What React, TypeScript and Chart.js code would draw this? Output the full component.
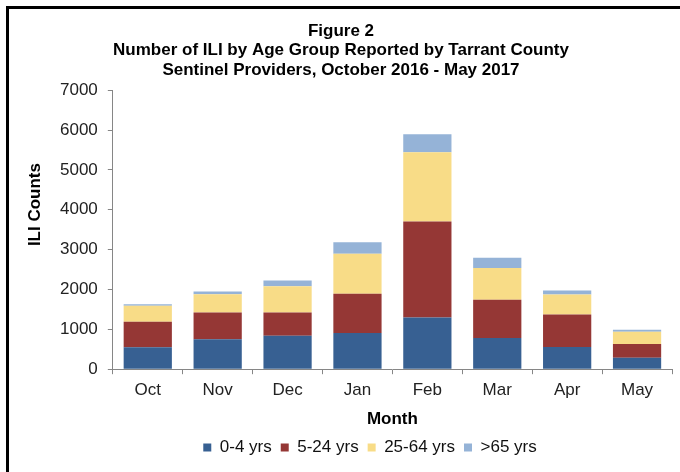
import React, { useEffect, useRef } from "react";
import { Chart, registerables } from "chart.js";

Chart.register(...registerables);

const months = ["Oct", "Nov", "Dec", "Jan", "Feb", "Mar", "Apr", "May"];
const age0to4 = [550, 750, 840, 910, 1300, 780, 560, 290];
const age5to24 = [640, 675, 585, 985, 2405, 960, 815, 345];
const age25to64 = [400, 455, 655, 1000, 1735, 800, 500, 305];
const age65plus = [40, 70, 145, 290, 455, 255, 100, 50];
const seriesLabels = ["0-4 yrs", "5-24 yrs", "25-64 yrs", ">65 yrs"];
const seriesColors = ["#376092", "#953735", "#F8DC87", "#95B3D7"];
const titleLines = [
  "Figure 2",
  "Number of ILI by Age Group Reported by Tarrant County",
  "Sentinel Providers, October 2016 - May 2017",
];
const yAxisTitle = "ILI Counts";
const xAxisTitle = "Month";

const FONT = '"Liberation Sans", Arial, sans-serif';

const shiftBlocksPlugin = {
  id: "shiftBlocks",
  afterLayout(chart: any) {
    const t = chart.titleBlock;
    if (t) {
      t.left -= 20;
      t.right -= 20;
    }
    const l = chart.legend;
    if (l && typeof l.adjustHitBoxes === "function") {
      l.left += 9;
      l.right += 9;
      l.adjustHitBoxes();
    }
  },
};

const yTitlePlugin = {
  id: "yTitleCustom",
  afterDraw(chart: any) {
    const { ctx, chartArea } = chart;
    ctx.save();
    ctx.translate(26, chartArea.top + (chartArea.bottom - chartArea.top) * 0.41);
    ctx.rotate(-Math.PI / 2);
    ctx.font = `bold 17px ${FONT}`;
    ctx.textAlign = "center";
    ctx.textBaseline = "middle";
    ctx.fillStyle = "#000";
    ctx.fillText(yAxisTitle, 0, 0);
    ctx.restore();
  },
};

export default function App() {
  const ref = useRef<HTMLCanvasElement>(null);
  useEffect(() => {
    if (!ref.current) return;
    Chart.defaults.font.family = FONT;
    const data = [age0to4, age5to24, age25to64, age65plus];
    const chart = new Chart(ref.current, {
      type: "bar",
      data: {
        labels: months,
        datasets: data.map((d, i) => ({
          label: seriesLabels[i],
          data: d,
          backgroundColor: seriesColors[i],
          borderWidth: 0,
          categoryPercentage: 1,
          barPercentage: 0.69,
        })),
      },
      options: {
        responsive: false,
        animation: false,
        devicePixelRatio: 1,
        layout: { padding: { left: 41, right: 8, top: 1, bottom: 6 } },
        plugins: {
          title: {
            display: true,
            text: titleLines,
            color: "#000",
            font: { size: 17, weight: "bold", lineHeight: 1.16 },
            padding: { top: 11, bottom: 10 },
          },
          legend: {
            display: true,
            position: "bottom",
            labels: {
              boxWidth: 8,
              boxHeight: 8,
              color: "#111",
              font: { size: 17 },
              padding: 9,
            },
          },
          tooltip: { enabled: false },
        },
        scales: {
          x: {
            stacked: true,
            border: { display: true, color: "#868686", width: 1 },
            grid: {
              display: true,
              drawOnChartArea: false,
              drawTicks: true,
              tickLength: 5,
              color: "#868686",
            },
            ticks: { color: "#222", font: { size: 17 }, padding: 6 },
            title: {
              display: true,
              text: xAxisTitle,
              color: "#000",
              font: { size: 17, weight: "bold" },
              padding: { top: 3, bottom: 0 },
            },
          },
          y: {
            stacked: true,
            min: 0,
            max: 7000,
            border: { display: true, color: "#868686", width: 1 },
            grid: {
              display: true,
              drawOnChartArea: false,
              drawTicks: true,
              tickLength: 5,
              color: "#868686",
            },
            ticks: {
              stepSize: 1000,
              color: "#222",
              font: { size: 17 },
              padding: 10,
              callback: (v: any) => String(v),
            },
          },
        },
      },
      plugins: [shiftBlocksPlugin, yTitlePlugin],
    } as any);
    return () => chart.destroy();
  }, []);
  return (
    <div
      style={{
        position: "absolute",
        left: 6,
        top: 6,
        width: 674,
        height: 466,
        borderTop: "3px solid #000",
        borderLeft: "3px solid #000",
        background: "#fff",
      }}
    >
      <canvas ref={ref} width={671} height={463} style={{ display: "block" }} />
    </div>
  );
}
